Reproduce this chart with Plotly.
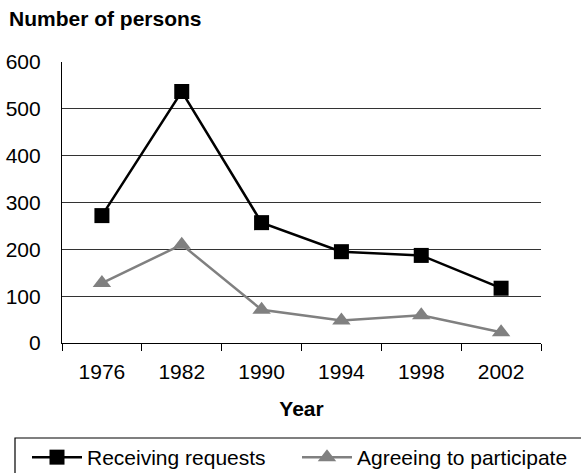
import plotly.graph_objects as go

years = ["1976", "1982", "1990", "1994", "1998", "2002"]
receiving_requests = [272, 537, 257, 195, 187, 117]
agreeing_to_participate = [128, 210, 71, 48, 59, 23]
y_ticks = [0, 100, 200, 300, 400, 500, 600]

FONT = "Liberation Sans, Arial, sans-serif"
W, H = 581, 473
L, R, T, B = 62, 40, 62, 130
PW, PH = W - L - R, H - T - B


def px_x(x):
    return (x - L) / PW


def px_y(y):
    return (H - B - y) / PH


def legend_at(x_px, y_px):
    return dict(
        orientation="h", xref="container", yref="container",
        x=x_px / W, xanchor="left", y=1 - y_px / H, yanchor="top",
        font=dict(size=21), itemwidth=50,
        bgcolor="rgba(0,0,0,0)", borderwidth=0,
    )


fig = go.Figure()
fig.add_trace(go.Scatter(
    x=years, y=receiving_requests, name="Receiving requests",
    mode="lines+markers",
    line=dict(color="#000000", width=2.5),
    marker=dict(symbol="square", size=15, color="#000000"),
    legend="legend",
))
fig.add_trace(go.Scatter(
    x=years, y=agreeing_to_participate, name="Agreeing to participate",
    mode="lines+markers",
    line=dict(color="#808080", width=2.5),
    marker=dict(symbol="triangle-up", size=16, color="#808080"),
    legend="legend2",
))

fig.update_layout(
    width=W, height=H,
    margin=dict(l=L, r=R, t=T, b=B, autoexpand=False),
    paper_bgcolor="white", plot_bgcolor="white",
    font=dict(family=FONT, size=21, color="#000000"),
    showlegend=True,
    legend=legend_at(27, 437),
    legend2=legend_at(297, 437),
    xaxis=dict(
        type="category", range=[-0.5, len(years) - 0.5], showgrid=False,
        showline=True, linecolor="#000000", linewidth=1.2,
        ticks="outside", tickson="boundaries", ticklen=7, tickcolor="#000000",
        tickwidth=1.2, ticklabelstandoff=10,
        title=dict(text="<b>Year</b>", font=dict(size=21), standoff=19),
    ),
    yaxis=dict(
        range=[0, 600], tickvals=y_ticks,
        showgrid=True, gridcolor="#333333", gridwidth=1,
        showline=True, linecolor="#000000", linewidth=1.2,
        zeroline=False, ticks="", ticklabelstandoff=16,
    ),
    annotations=[dict(
        text="<b>Number of persons</b>", xref="paper", yref="paper",
        x=px_x(7), xanchor="left", y=px_y(19), yanchor="middle",
        showarrow=False, font=dict(size=21),
    )],
    shapes=[dict(
        type="rect", xref="paper", yref="paper",
        x0=px_x(15), x1=px_x(600),
        y0=px_y(490), y1=px_y(438),
        line=dict(color="#000000", width=1.2), fillcolor="rgba(0,0,0,0)",
    )],
)

fig.write_html("out.html")
